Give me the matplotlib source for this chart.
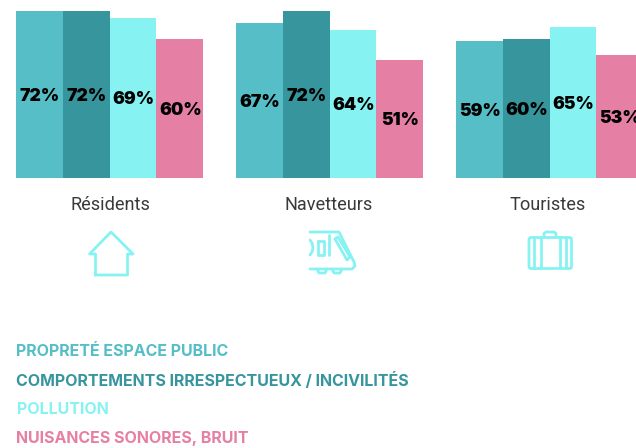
import matplotlib
matplotlib.use("Agg")
import matplotlib.pyplot as plt
import numpy as np
from matplotlib.patches import FancyBboxPatch

categories = ["Résidents", "Navetteurs", "Touristes"]
series_names = ["PROPRETÉ ESPACE PUBLIC", "COMPORTEMENTS IRRESPECTUEUX / INCIVILITÉS", "POLLUTION", "NUISANCES SONORES, BRUIT"]
proprete = [72, 67, 59]
comportements = [72, 72, 60]
pollution = [69, 64, 65]
nuisances = [60, 51, 53]
series_values = [proprete, comportements, pollution, nuisances]
colors = ["#55BEC6", "#36959D", "#87F2F2", "#E57FA3"]

W, H = 636, 448
fig = plt.figure(figsize=(W/100, H/100), dpi=100, facecolor="white")

# bars
ax = fig.add_axes([0, (H-178)/H, 1, 178/H])
spacing = 220.0
bar_w = 46.8/spacing
ax.set_xlim((0-109.5)/spacing, (W-109.5)/spacing)
ax.set_ylim(0, 178/2.32)
ax.axis("off")
x = np.arange(len(categories))
for i, vals in enumerate(series_values):
    offs = x + (i-1.5)*bar_w
    ax.bar(offs, vals, width=bar_w, color=colors[i], linewidth=0)
    for xo, v in zip(offs, vals):
        ax.annotate(f"{v}%", (xo, v/2), xytext=(0.4, -1.3), textcoords="offset points",
                    ha="center", va="center", fontsize=12.6,
                    fontweight="black", family="Inter", color="black",
                    annotation_clip=False)

# overlay in pixel coordinates for text and icons
ov = fig.add_axes([0, 0, 1, 1])
ov.set_xlim(0, W); ov.set_ylim(H, 0); ov.axis("off"); ov.patch.set_alpha(0)
for c, cx in zip(categories, [110, 329, 547.5]):
    ov.text(cx, 205.5, c, ha="center", va="center", fontsize=13.1, family="Roboto",
            fontweight="normal", color="#3a3a3a")
for name, col, y in zip(series_names, colors, [352, 381, 410, 438.5]):
    ov.text(16.5, y, name, ha="left", va="center", fontsize=11.5, family="Inter",
            fontweight="bold", color=col)

ic = "#87F2F2"
lw = 2.0
def line(xs, ys, lw=lw):
    ov.plot(xs, ys, color=ic, lw=lw, solid_capstyle="round", solid_joinstyle="round")
# house
line([95.5,95.5,89.5,111,133,127.5,127.5,95.5], [275,254,254,232,254,254,275,275])
# train
line([310,339,354,355,352,310], [232,232,262,266,269,269])
line([329,329],[235,255])
line([310,312,313,312,310],[240,243,248,252,255])
line([318,324,324,318,318],[241,241,255,255,241])
line([335,338,350,347,335],[239,237,257,260,239])
line([317,319,325,327],[269,273,273,269])
line([332,334,340,342],[269,273,273,269])
# suitcase
ov.add_patch(FancyBboxPatch((529,237.5),42.5,31,boxstyle="round,pad=0,rounding_size=2",fc="none",ec=ic,lw=lw))
for lx in [534, 541, 559.5, 565.5]:
    line([lx,lx],[237.5,268.5])
line([544,544,546,554,556,556],[237,233.5,232,232,233.5,237])

fig.savefig("out.png", dpi=100)
